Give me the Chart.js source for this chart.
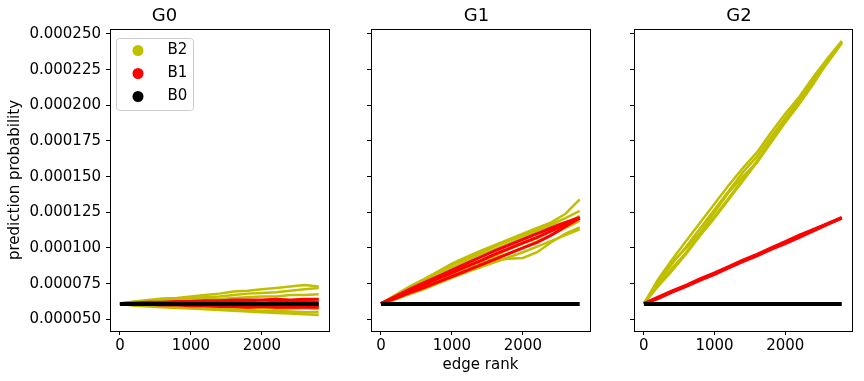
<!DOCTYPE html>
<html>
<head>
<meta charset="utf-8">
<script src="https://cdn.jsdelivr.net/npm/chart.js@4.4.1/dist/chart.umd.min.js"></script>
<style>
  body { margin: 0; background: #fff; }
  #wrap { position: relative; width: 864px; height: 381px; }
  #wrap canvas { position: absolute; left: 0; top: 0; }
</style>
</head>
<body>
<div id="wrap">
  <canvas id="g0" width="864" height="381"></canvas>
  <canvas id="g1" width="864" height="381"></canvas>
  <canvas id="g2" width="864" height="381"></canvas>
</div>
<script>
// edge rank positions where the traces were read
const xRanks = [0, 200, 400, 600, 800, 1000, 1200, 1400, 1600, 1800, 2000, 2200, 2400, 2600, 2800];

// prediction probability, in units of 1e-6
const b0Line = [60.7, 60.7, 60.7, 60.7, 60.7, 60.7, 60.7, 60.7, 60.7, 60.7, 60.7, 60.7, 60.7, 60.7, 60.7];

const g0B2 = [
  [61, 62.5, 63.5, 64.5, 65, 66, 67, 68, 69.5, 70, 71, 72, 73, 74, 73],
  [61, 62, 63, 63.5, 64, 65, 65.5, 66, 67, 68, 68.5, 69, 70, 71, 72],
  [61, 61.5, 62, 62.5, 63, 63.5, 64, 64, 65, 65.5, 66, 66, 67, 67, 67.5],
  [61, 61, 61.5, 62, 62, 62.5, 62, 63, 63, 62.5, 63, 63.5, 63, 64, 64],
  [61, 60.5, 60, 60, 59.5, 59.5, 59, 59, 58.5, 58, 58, 57.5, 57.5, 58, 57],
  [61, 60, 59.5, 59, 58.5, 58, 57.5, 57, 57, 56.5, 56, 56, 55.5, 55, 55],
  [61, 59.5, 59, 58.5, 58, 57.5, 57, 56.5, 56, 55.5, 55, 54.5, 54, 53.5, 53],
  [61, 61, 60.5, 61, 60.5, 60.5, 60, 60.5, 60, 59.5, 60, 59.5, 59.5, 60, 59.5]
];
const g0B1 = [
  [61, 61.5, 62, 62, 62.5, 62.5, 63, 63, 63.5, 63.5, 63.5, 64, 63.5, 64, 64],
  [61, 60.5, 60.5, 60, 60, 59.5, 59.5, 59, 59, 58.5, 59, 58.5, 58.5, 58.5, 58.5],
  [61, 61, 61.5, 61.5, 61, 61.5, 62, 61.5, 62, 62, 61.5, 62, 62, 62.5, 62],
  [61, 60.5, 61, 60.5, 60.5, 60, 60.5, 60, 60, 60.5, 60, 60, 60.5, 60, 60]
];

const g1B2 = [
  [61, 67, 73, 78, 83.5, 89, 93.5, 98, 102, 106, 110, 114, 118, 124, 134],
  [61, 66, 71, 76, 81, 86, 90.5, 95, 99, 103, 107.5, 112, 116.5, 121, 126],
  [61, 65, 69.5, 73.5, 78, 82, 86.5, 90.5, 94.5, 99, 103, 107, 112, 117, 122.5],
  [61, 64.5, 69, 73, 77, 81, 85, 89, 93, 96, 100, 104.5, 109, 114, 119],
  [61, 64, 68.5, 72, 76, 80, 84, 88, 91.5, 92.5, 93, 97, 104, 110, 114.5],
  [61, 64, 67.5, 71, 75, 79, 83, 86.5, 90, 93.5, 97, 101, 105, 109, 113],
  [61, 66.5, 72, 77, 82.5, 88, 92, 96.5, 101, 105, 109, 112.5, 115.5, 118, 120]
];
const g1B1 = [
  [61, 66, 71, 75.5, 80, 84.5, 89, 93.5, 98, 102, 106, 110, 114, 118, 121.5],
  [61, 64.5, 68.5, 72, 76, 80, 84, 88, 92, 96, 100, 104, 109, 115, 121],
  [61, 65.5, 70, 74, 78.5, 82.5, 87, 91, 95.5, 99.5, 103.5, 107.5, 112, 116.5, 121]
];

const g2B2 = [
  [61, 78, 92, 105, 118, 131, 144, 156, 167, 181, 194, 206, 220, 233, 245],
  [61, 76, 89, 101, 114, 127, 140, 153, 164, 178, 191, 204, 218, 231, 244.5],
  [61, 74, 86, 97, 110, 122, 135, 148, 161, 175, 189, 202, 216, 230, 244],
  [61, 76, 90, 100, 111, 125, 139, 150, 160, 174, 188, 201, 215, 231, 245],
  [61, 73, 84, 96, 109, 121, 134, 147, 160, 175, 190, 204, 217, 230, 243.5]
];
const g2B1 = [
  [61, 65, 69.5, 73.5, 78, 82, 86.5, 91, 95, 99.5, 103.5, 108, 112.5, 117, 121],
  [61, 65.5, 70, 74, 78.5, 82.5, 87, 91.5, 95.5, 100, 104.5, 109, 113, 117, 121.5],
  [61, 64.5, 69, 73, 77.5, 81.5, 86, 90.5, 94.5, 99, 103, 107.5, 112, 116.5, 121]
];

const panelTitles = ['G0', 'G1', 'G2'];
const seriesNames = ['B2', 'B1', 'B0'];
const seriesColors = ['#bfbf00', '#ff0000', '#000000'];
const yTicks = [0.00005, 0.000075, 0.0001, 0.000125, 0.00015, 0.000175, 0.0002, 0.000225, 0.00025];
const xTicks = [0, 1000, 2000];

const FONT = 'DejaVu Sans';

function toPoints(trace) {
  return xRanks.map((x, i) => ({ x: x, y: trace[i] * 1e-6 }));
}

function buildDatasets(b2, b1) {
  const sets = [];
  const groups = [b2, b1, [b0Line]];
  const widths = [2.5, 3, 4];
  groups.forEach((traces, s) => {
    traces.forEach(t => {
      sets.push({
        label: seriesNames[s],
        data: toPoints(t),
        showLine: true,
        borderColor: seriesColors[s],
        backgroundColor: seriesColors[s],
        borderWidth: widths[s],
        pointRadius: 0,
        order: 2 - s
      });
    });
  });
  return sets;
}

const framePlugin = {
  id: 'frame',
  afterDraw(chart) {
    const a = chart.chartArea, ctx = chart.ctx;
    ctx.save();
    ctx.strokeStyle = '#000';
    ctx.lineWidth = 1;
    ctx.strokeRect(Math.round(a.left) + 0.5, Math.round(a.top) + 0.5,
      Math.round(a.right - a.left), Math.round(a.bottom - a.top));
    ctx.restore();
  }
};

const legendPlugin = {
  id: 'boxLegend',
  afterDraw(chart) {
    const a = chart.chartArea, ctx = chart.ctx;
    const x = a.left + 6.5, y = a.top + 9.5, w = 77, h = 72;
    ctx.save();
    ctx.beginPath();
    ctx.roundRect(x, y, w, h, 3);
    ctx.fillStyle = 'rgba(255,255,255,0.8)';
    ctx.fill();
    ctx.strokeStyle = '#cccccc';
    ctx.lineWidth = 1;
    ctx.stroke();
    ctx.font = '15px "' + FONT + '"';
    ctx.textBaseline = 'middle';
    seriesNames.forEach((name, i) => {
      const cy = y + 12 + i * 23;
      ctx.beginPath();
      ctx.arc(x + 21.5, cy, 5.5, 0, Math.PI * 2);
      ctx.fillStyle = seriesColors[i];
      ctx.fill();
      ctx.fillStyle = '#000';
      ctx.fillText(name, x + 51, cy);
    });
    ctx.restore();
  }
};

function makeChart(id, idx, b2, b1, opt) {
  const plugins = [framePlugin];
  if (opt.legend) plugins.push(legendPlugin);
  new Chart(document.getElementById(id), {
    type: 'scatter',
    data: { datasets: buildDatasets(b2, b1) },
    options: {
      responsive: false,
      animation: false,
      events: [],
      layout: { padding: { left: opt.padLeft, right: opt.padRight, top: 0, bottom: 0 } },
      plugins: {
        legend: { display: false },
        tooltip: { enabled: false },
        title: {
          display: true,
          text: panelTitles[idx],
          color: '#000',
          font: { family: FONT, size: 18, weight: 'normal' },
          padding: { top: 6, bottom: 1.4 }
        }
      },
      scales: {
        x: {
          type: 'linear',
          min: -140,
          max: 2945,
          afterBuildTicks: s => { s.ticks = xTicks.map(v => ({ value: v })); },
          afterFit: s => { s.height = 50; },
          ticks: {
            color: '#000',
            font: { family: FONT, size: 15 },
            padding: 2,
            maxRotation: 0,
            callback: v => String(v)
          },
          grid: { drawOnChartArea: false, drawTicks: true, tickLength: 4, color: '#000' },
          border: { color: '#000' },
          title: {
            display: opt.xTitle,
            text: 'edge rank',
            color: '#000',
            font: { family: FONT, size: 15 },
            padding: { top: 0, bottom: 7 }
          }
        },
        y: {
          type: 'linear',
          min: 0.0000418,
          max: 0.0002535,
          afterBuildTicks: s => { s.ticks = yTicks.map(v => ({ value: v })); },
          afterFit: s => { s.width = opt.yWidth; },
          ticks: {
            display: opt.yLabels,
            color: '#000',
            font: { family: FONT, size: 15 },
            padding: 5,
            callback: v => v.toFixed(6)
          },
          grid: { drawOnChartArea: false, drawTicks: true, tickLength: 4, color: '#000' },
          border: { color: '#000' },
          title: {
            display: opt.yLabels,
            text: 'prediction probability',
            color: '#000',
            font: { family: FONT, size: 15 },
            padding: { top: 6, bottom: 0 }
          }
        }
      }
    },
    plugins: plugins
  });
}

makeChart('g0', 0, g0B2, g0B1, { padLeft: 0, padRight: 535, yWidth: 110, yLabels: true, xTitle: false, legend: true });
makeChart('g1', 1, g1B2, g1B1, { padLeft: 363, padRight: 274, yWidth: 8, yLabels: false, xTitle: true, legend: false });
makeChart('g2', 2, g2B2, g2B1, { padLeft: 626, padRight: 12, yWidth: 8, yLabels: false, xTitle: false, legend: false });
</script>
</body>
</html>
